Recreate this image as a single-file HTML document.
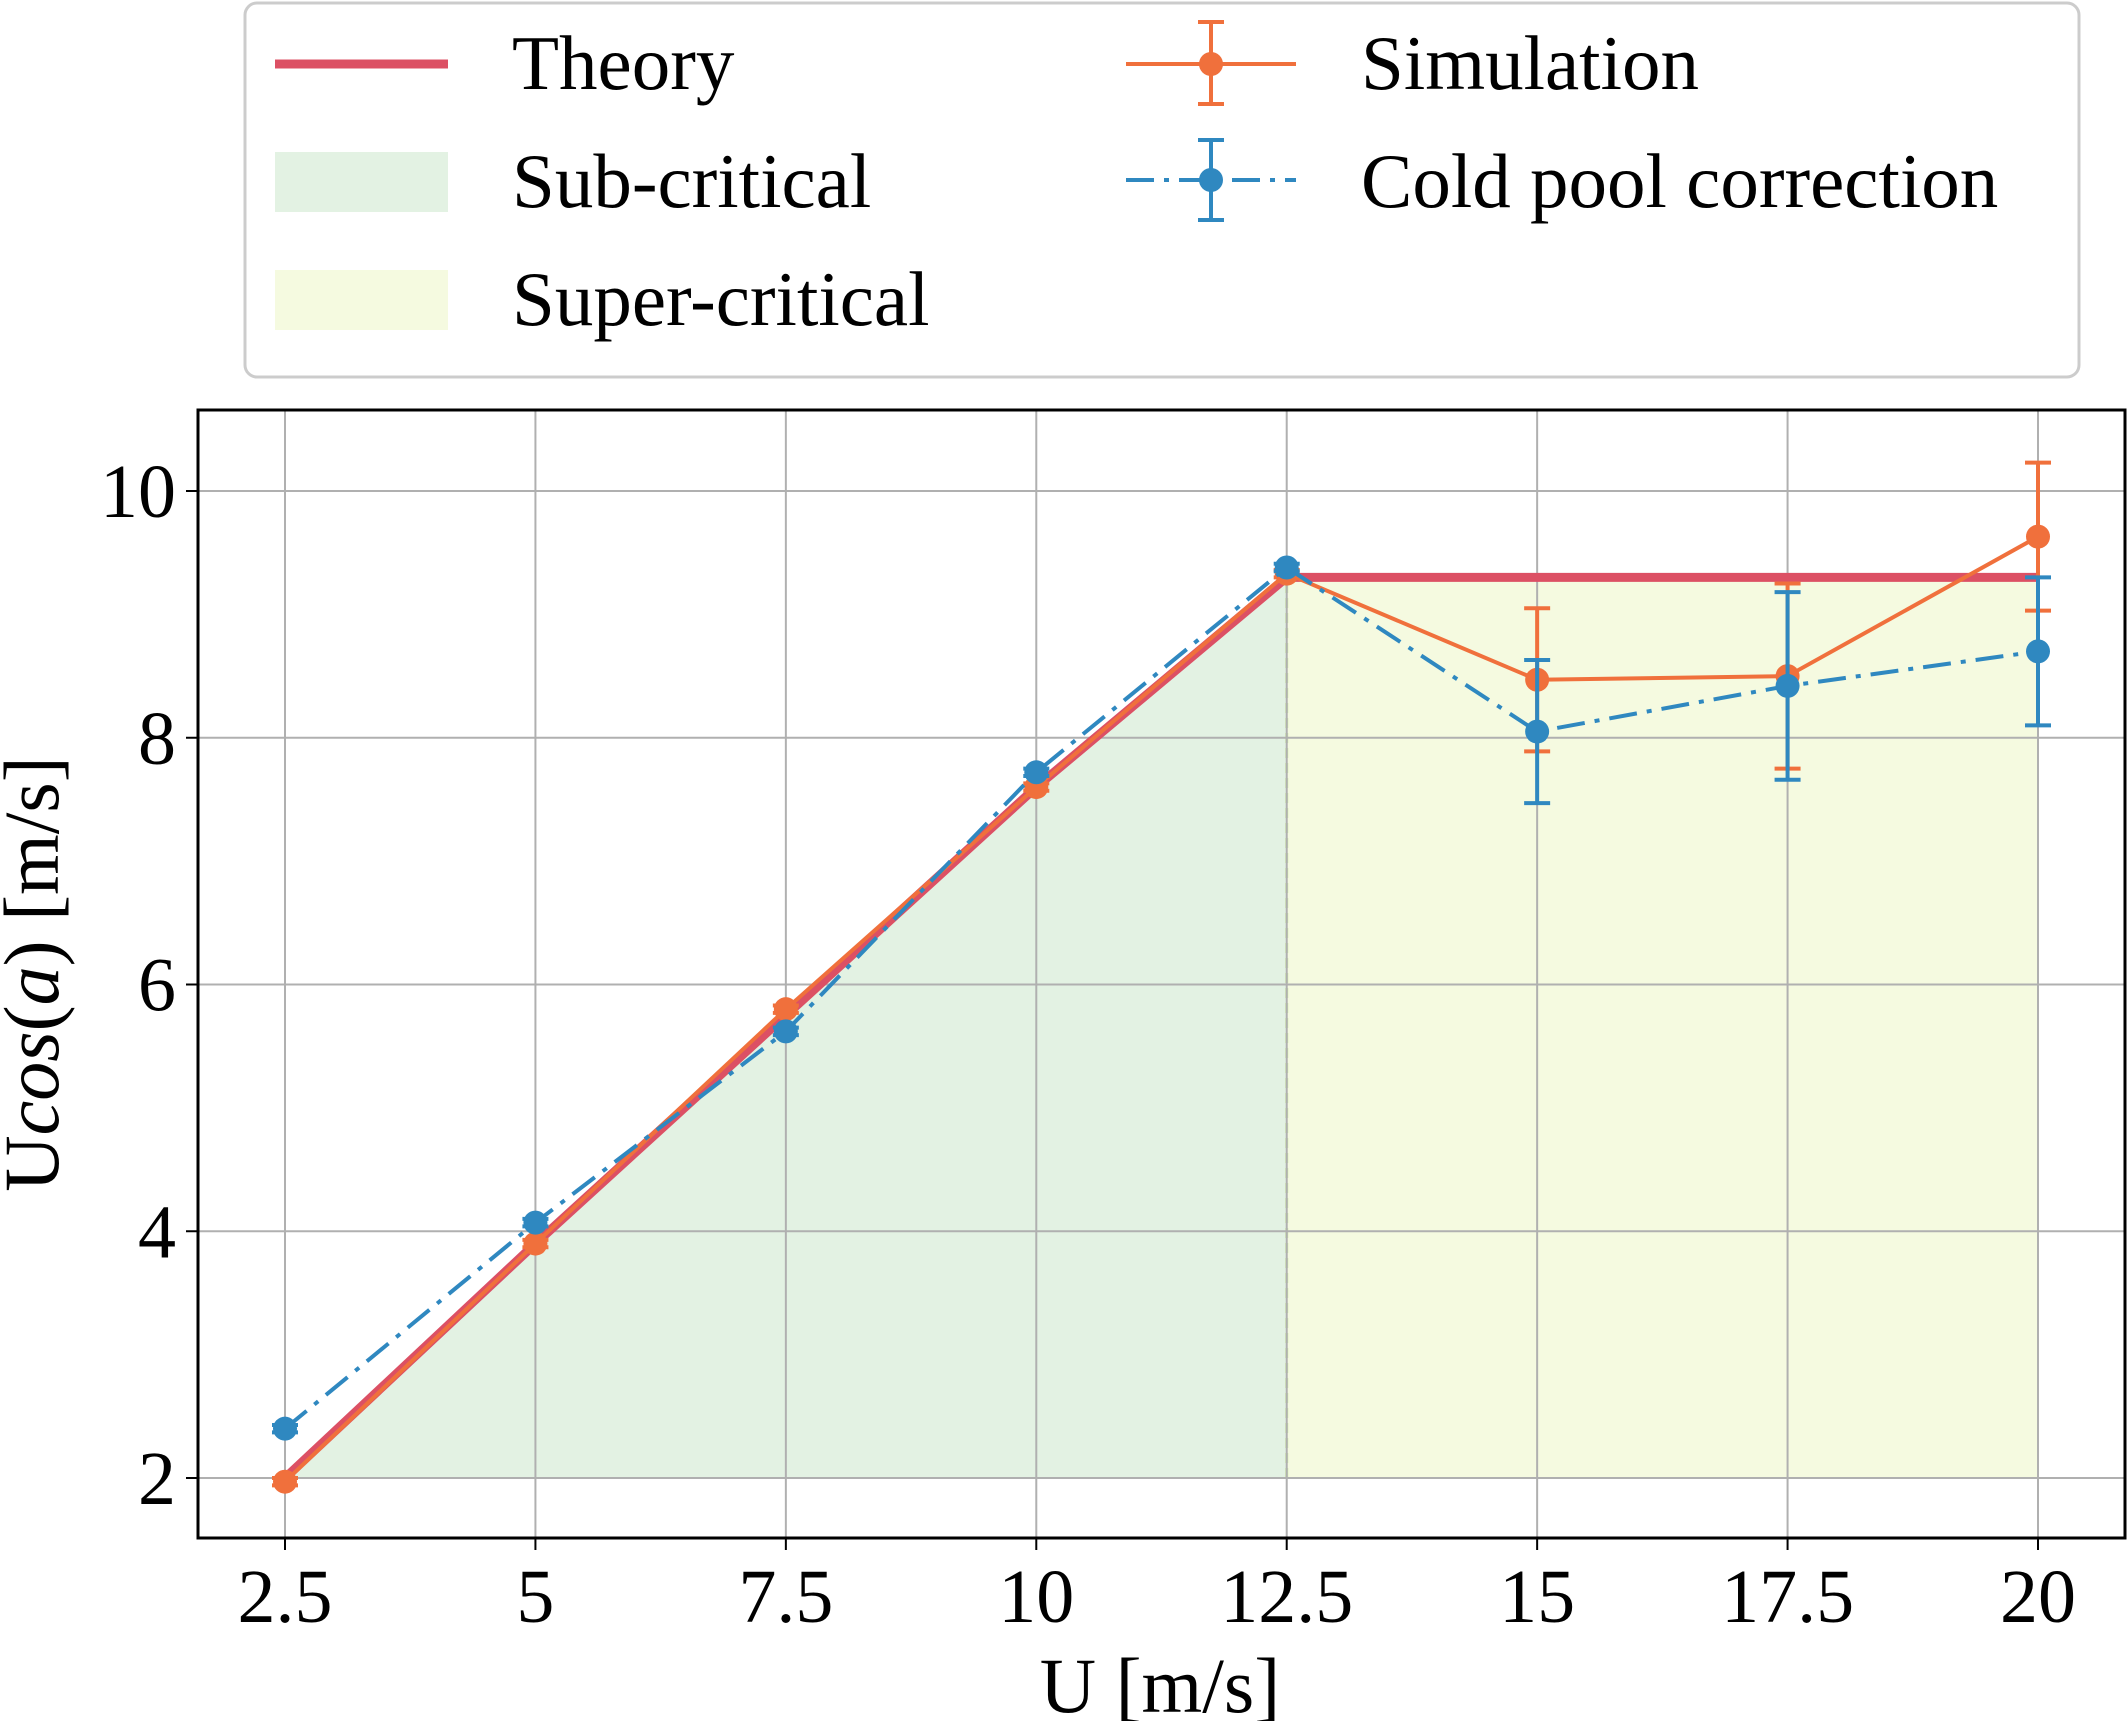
<!DOCTYPE html>
<html><head><meta charset="utf-8"><style>
html,body{margin:0;padding:0;background:#fff;}
svg{display:block;font-family:"Liberation Serif",serif;}
</style></head><body>
<svg id="c" width="2128" height="1721" viewBox="0 0 2128 1721"></svg>
<script>
const xVals=[2.5,5,7.5,10,12.5,15,17.5,20];
const theoryX=[2.5,5,7.5,10,12.5,20];
const theoryY=[2,3.9,5.75,7.6,9.3,9.3];
const simY=[1.97,3.9,5.8,7.6,9.33,8.47,8.5,9.63];
const simErr=[0.03,0.03,0.03,0.03,0.03,0.58,0.75,0.6];
const coldY=[2.4,4.07,5.62,7.72,9.38,8.05,8.42,8.7];
const coldErr=[0.03,0.03,0.03,0.03,0.03,0.58,0.76,0.6];
const xTicks=[2.5,5,7.5,10,12.5,15,17.5,20];
const xTickLabels=["2.5","5","7.5","10","12.5","15","17.5","20"];
const yTicks=[2,4,6,8,10];
const yTickLabels=["2","4","6","8","10"];
const L=198,R=2125,T=410,B=1538;
function X(v){return 285+(v-2.5)*(2038-285)/17.5;}
function Y(v){return 1478-(v-2)*(1478-491)/8;}
const svg=document.getElementById('c');
const NS='http://www.w3.org/2000/svg';
function el(tag,attrs,parent){const e=document.createElementNS(NS,tag);for(const k in attrs)e.setAttribute(k,attrs[k]);(parent||svg).appendChild(e);return e;}
let gp=`M${X(2.5)},${Y(2)}`;
for(let i=0;i<theoryX.length;i++){if(theoryX[i]<=12.5)gp+=` L${X(theoryX[i])},${Y(theoryY[i])}`;}
gp+=` L${X(12.5)},${Y(2)} Z`;
const g1=el('path',{d:gp,fill:'#e3f2e3'});


const y1=el('path',{d:`M${X(12.5)},${Y(2)} L${X(12.5)},${Y(9.3)} L${X(20)},${Y(9.3)} L${X(20)},${Y(2)} Z`,fill:'#f5fae0'});


el('line',{x1:X(12.5),y1:Y(2),x2:X(12.5),y2:Y(9.3),stroke:'#cfe8a8','stroke-width':3,'stroke-dasharray':'10,5'});
xTicks.forEach((v,i)=>{
  const g=el('line',{x1:X(v),y1:T,x2:X(v),y2:B,stroke:'#b0b0b0','stroke-width':2});
  
  
  el('line',{x1:X(v),y1:B,x2:X(v),y2:B+12,stroke:'#000','stroke-width':2});
  const t=el('text',{x:X(v),y:1622,'font-size':76,'text-anchor':'middle'});t.textContent=xTickLabels[i];
  
  
});
yTicks.forEach((v,i)=>{
  const g=el('line',{x1:L,y1:Y(v),x2:R,y2:Y(v),stroke:'#b0b0b0','stroke-width':2});
  
  
  el('line',{x1:L-12,y1:Y(v),x2:L,y2:Y(v),stroke:'#000','stroke-width':2});
  const t=el('text',{x:176,y:Y(v)+26,'font-size':76,'text-anchor':'end'});t.textContent=yTickLabels[i];
  
  
});
const th=el('polyline',{points:theoryX.map((v,i)=>X(v)+','+Y(theoryY[i])).join(' '),fill:'none',stroke:'#dc5064','stroke-width':9});


function series(ys,errs,color,dash,name){
  const p=el('polyline',{points:xVals.map((v,i)=>X(v)+','+Y(ys[i])).join(' '),fill:'none',stroke:color,'stroke-width':4,'stroke-dasharray':dash});
  
  
  xVals.forEach((v,i)=>{
    const x=X(v),a=Y(ys[i]-errs[i]),b=Y(ys[i]+errs[i]);
    el('line',{x1:x,y1:a,x2:x,y2:b,stroke:color,'stroke-width':4});
    el('line',{x1:x-13,y1:a,x2:x+13,y2:a,stroke:color,'stroke-width':4});
    el('line',{x1:x-13,y1:b,x2:x+13,y2:b,stroke:color,'stroke-width':4});
    const c=el('circle',{cx:x,cy:Y(ys[i]),r:12,fill:color});
    
    
  });
}
series(simY,simErr,'#f0703c','none','simulation');
series(coldY,coldErr,'#2f88c0','28,10,5,10','cold-pool');
el('rect',{x:L,y:T,width:R-L,height:B-T,fill:'none',stroke:'#000','stroke-width':3});
const xt=el('text',{x:1160,y:1712,'font-size':78,'text-anchor':'middle'});xt.textContent='U [m/s]';


const yt=el('text',{x:0,y:0,'font-size':78,'text-anchor':'middle',transform:'translate(58,974) rotate(-90)'});
yt.innerHTML='U<tspan font-style="italic">cos</tspan>(<tspan font-style="italic">a</tspan>) [m/s]';


const lg=el('g',{});


el('rect',{x:245,y:3,width:1834,height:374,rx:12,fill:'#fff',stroke:'#ccc','stroke-width':3},lg);
el('line',{x1:275,y1:64,x2:448,y2:64,stroke:'#dc5064','stroke-width':9},lg);
el('rect',{x:275,y:152,width:173,height:60,fill:'#e3f2e3'},lg);
el('rect',{x:275,y:270,width:173,height:60,fill:'#f5fae0'},lg);
el('line',{x1:1126,y1:64,x2:1296,y2:64,stroke:'#f0703c','stroke-width':4},lg);
el('line',{x1:1211,y1:22,x2:1211,y2:104,stroke:'#f0703c','stroke-width':4},lg);
el('line',{x1:1198,y1:22,x2:1224,y2:22,stroke:'#f0703c','stroke-width':4},lg);
el('line',{x1:1198,y1:104,x2:1224,y2:104,stroke:'#f0703c','stroke-width':4},lg);
el('circle',{cx:1211,cy:64,r:12,fill:'#f0703c'},lg);
el('line',{x1:1126,y1:180,x2:1296,y2:180,stroke:'#2f88c0','stroke-width':4,'stroke-dasharray':'28,10,5,10'},lg);
el('line',{x1:1211,y1:140,x2:1211,y2:220,stroke:'#2f88c0','stroke-width':4},lg);
el('line',{x1:1198,y1:140,x2:1224,y2:140,stroke:'#2f88c0','stroke-width':4},lg);
el('line',{x1:1198,y1:220,x2:1224,y2:220,stroke:'#2f88c0','stroke-width':4},lg);
el('circle',{cx:1211,cy:180,r:12,fill:'#2f88c0'},lg);
[['Theory',512,89],['Sub-critical',512,207],['Super-critical',512,325],['Simulation',1361,89],['Cold pool correction',1361,207]].forEach(d=>{
  const t=el('text',{x:d[1],y:d[2],'font-size':77},lg);t.textContent=d[0];
  
  
});
</script>
</body></html>
